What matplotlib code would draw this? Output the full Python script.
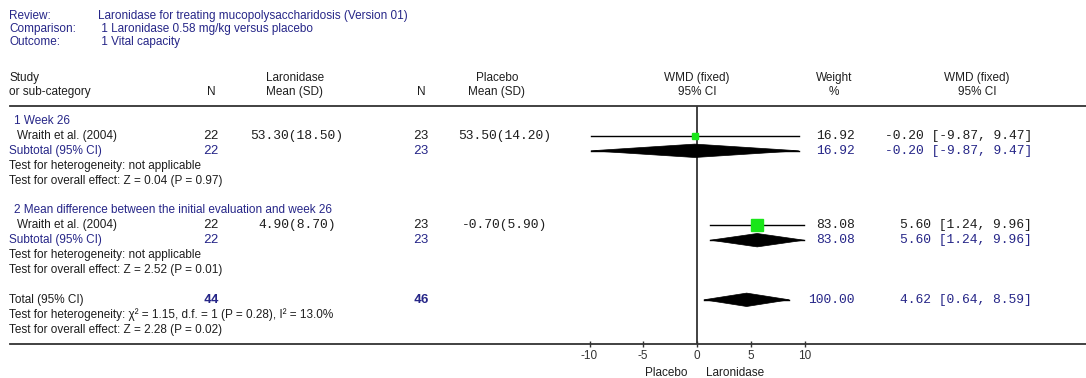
import matplotlib
matplotlib.use('Agg')
import matplotlib.pyplot as plt
import numpy as np

# review info
review_labels = ['Review:', 'Comparison:', 'Outcome:']
review_values = ['Laronidase for treating mucopolysaccharidosis (Version 01)',
                 ' 1 Laronidase 0.58 mg/kg versus placebo',
                 ' 1 Vital capacity']

# per-study data (one study in each sub-group)
groups = ['1 Week 26', '2 Mean difference between the initial evaluation and week 26']
studies = ['Wraith et al. (2004)', 'Wraith et al. (2004)']
n_lar = [22, 22]
mean_lar = [53.30, 4.90]
sd_lar = [18.50, 8.70]
n_pla = [23, 23]
mean_pla = [53.50, -0.70]
sd_pla = [14.20, 5.90]
wmd = [-0.20, 5.60]
ci_lo = [-9.87, 1.24]
ci_hi = [9.47, 9.96]
weight = [16.92, 83.08]
het_text = ['Test for heterogeneity: not applicable', 'Test for heterogeneity: not applicable']
eff_text = ['Test for overall effect: Z = 0.04 (P = 0.97)', 'Test for overall effect: Z = 2.52 (P = 0.01)']

# pooled total
tot_n_lar = 44
tot_n_pla = 46
tot_wmd = 4.62
tot_lo = 0.64
tot_hi = 8.59
tot_weight = 100.00
tot_het = 'Test for heterogeneity: χ² = 1.15, d.f. = 1 (P = 0.28), I² = 13.0%'
tot_eff = 'Test for overall effect: Z = 2.28 (P = 0.02)'

xticks = [-10, -5, 0, 5, 10]

NAVY = '#262688'
BLACK = '#1e1e1e'
GREEN = '#19e619'
SANS = 'Liberation Sans'
MONO = 'Liberation Mono'
FS = 8.5
MFS = 9.4

W, H = 1086, 378
fig = plt.figure(figsize=(W / 100, H / 100), dpi=100)

# background axes in pixel coordinates for text
bg = fig.add_axes([0, 0, 1, 1])
bg.set_xlim(0, W)
bg.set_ylim(H, 0)
bg.axis('off')

ROW0, DY = 121.0, 14.9
def rowy(k):
    return ROW0 + DY * k

def txt(x, y, s, color=BLACK, ha='left', font=SANS, size=FS, weight='normal'):
    bg.text(x, y, s, color=color, ha=ha, va='center', family=font, fontsize=size, fontweight=weight)

# header block
for i, (lab, val) in enumerate(zip(review_labels, review_values)):
    y = 16 + 13 * i
    txt(9, y, lab, NAVY)
    txt(98, y, val, NAVY)

txt(9, 78, 'Study')
txt(9, 92, 'or sub-category')
txt(211, 92, 'N', ha='center')
txt(295, 78, 'Laronidase', ha='center')
txt(295, 92, 'Mean (SD)', ha='center')
txt(421, 92, 'N', ha='center')
txt(497, 78, 'Placebo', ha='center')
txt(497, 92, 'Mean (SD)', ha='center')
txt(697, 78, 'WMD (fixed)', ha='center')
txt(697, 92, '95% CI', ha='center')
txt(834, 78, 'Weight', ha='center')
txt(834, 92, '%', ha='center')
txt(977, 78, 'WMD (fixed)', ha='center')
txt(977, 92, '95% CI', ha='center')

# forest axes: x=0 at pixel 697, 10.75 px per unit
x_left, x_right = 10, W
y_top, y_bot = 106, 344
px_per = 10.75
zero_px = 697
ax = fig.add_axes([x_left / W, (H - y_bot) / H, (x_right - x_left) / W, (y_bot - y_top) / H])
ax.set_xlim((x_left - zero_px) / px_per, (x_right - zero_px) / px_per)
ax.set_ylim((y_bot - ROW0) / DY, (y_top - ROW0) / DY)
ax.patch.set_alpha(0)
for s in ['left', 'right']:
    ax.spines[s].set_visible(False)
for s in ['top', 'bottom']:
    ax.spines[s].set_color('#333333')
    ax.spines[s].set_linewidth(1.3)
ax.set_yticks([])
ax.set_xticks(xticks)
ax.set_xticklabels([str(t) for t in xticks], family=SANS, fontsize=FS, color='#333333')
ax.tick_params(axis='x', direction='inout', length=4, width=1, color='#333333', pad=2)
ax.axvline(0, color='#333333', lw=1.3, zorder=1)

half_h = 0.45

def diamond(k, c, lo, hi):
    ax.plot([lo, hi], [k, k], color='black', lw=1, zorder=2)
    ax.fill([lo, c, hi, c], [k, k - half_h, k, k + half_h], color='black', lw=0.5, zorder=3)

def fmt_ms(m, s):
    return f'{m:.2f}({s:.2f})'

def fmt_ci(c, lo, hi):
    return f'{c:.2f} [{lo:.2f}, {hi:.2f}]'

for g in range(len(groups)):
    k0 = 6 * g
    txt(14, rowy(k0), groups[g], NAVY)
    # study row
    k = k0 + 1
    txt(17, rowy(k), studies[g])
    txt(211, rowy(k), str(n_lar[g]), ha='center', font=MONO, size=MFS)
    txt(297, rowy(k), fmt_ms(mean_lar[g], sd_lar[g]), ha='center', font=MONO, size=MFS)
    txt(421, rowy(k), str(n_pla[g]), ha='center', font=MONO, size=MFS)
    txt(505, rowy(k), fmt_ms(mean_pla[g], sd_pla[g]), ha='center', font=MONO, size=MFS)
    txt(855, rowy(k), f'{weight[g]:.2f}', ha='right', font=MONO, size=MFS)
    txt(1032, rowy(k), fmt_ci(wmd[g], ci_lo[g], ci_hi[g]), ha='right', font=MONO, size=MFS)
    ax.plot([ci_lo[g], ci_hi[g]], [k, k], color='black', lw=1, zorder=2)
    ax.plot(wmd[g], k, marker='s', markersize=np.sqrt(weight[g]), color=GREEN, mec=GREEN, zorder=4)
    # subtotal row
    k = k0 + 2
    txt(9, rowy(k), 'Subtotal (95% CI)', NAVY)
    txt(211, rowy(k), str(n_lar[g]), NAVY, ha='center', font=MONO, size=MFS)
    txt(421, rowy(k), str(n_pla[g]), NAVY, ha='center', font=MONO, size=MFS)
    txt(855, rowy(k), f'{weight[g]:.2f}', NAVY, ha='right', font=MONO, size=MFS)
    txt(1032, rowy(k), fmt_ci(wmd[g], ci_lo[g], ci_hi[g]), NAVY, ha='right', font=MONO, size=MFS)
    diamond(k, wmd[g], ci_lo[g], ci_hi[g])
    txt(9, rowy(k0 + 3), het_text[g])
    txt(9, rowy(k0 + 4), eff_text[g])

# total rows
k = 12
txt(9, rowy(k), 'Total (95% CI)')
txt(211, rowy(k), str(tot_n_lar), NAVY, ha='center', font=MONO, size=MFS, weight='bold')
txt(421, rowy(k), str(tot_n_pla), NAVY, ha='center', font=MONO, size=MFS, weight='bold')
txt(855, rowy(k), f'{tot_weight:.2f}', NAVY, ha='right', font=MONO, size=MFS)
txt(1032, rowy(k), fmt_ci(tot_wmd, tot_lo, tot_hi), NAVY, ha='right', font=MONO, size=MFS)
diamond(k, tot_wmd, tot_lo, tot_hi)
txt(9, rowy(13), tot_het)
txt(9, rowy(14), tot_eff)

txt(688, 373, 'Placebo', ha='right')
txt(706, 373, 'Laronidase')

fig.savefig('out.png', dpi=100)
